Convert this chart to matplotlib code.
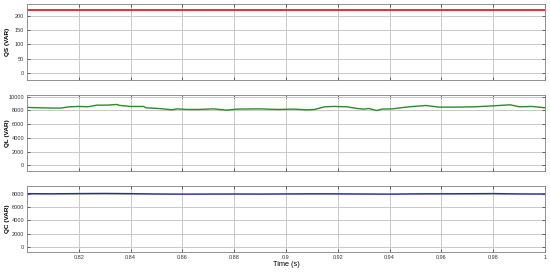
import numpy as np
import matplotlib.pyplot as plt

plt.rcParams['font.family'] = ['Liberation Sans', 'DejaVu Sans']

# data
qs_t = [0.8, 1.0]
qs = [220, 220]

ql_t = [0.8, 0.805, 0.8127, 0.8165, 0.82, 0.8235, 0.827, 0.831, 0.8346, 0.8358,
        0.84, 0.845, 0.846, 0.851, 0.856, 0.858, 0.8615, 0.8665, 0.872, 0.877,
        0.881, 0.89, 0.8965, 0.903, 0.908, 0.911, 0.915, 0.9185, 0.9235, 0.9275,
        0.93, 0.932, 0.935, 0.937, 0.941, 0.9475, 0.954, 0.959, 0.966, 0.973,
        0.98, 0.9865, 0.99, 0.995, 1.0]
ql = [8450, 8390, 8340, 8540, 8590, 8540, 8780, 8780, 8880, 8740,
      8590, 8590, 8390, 8290, 8100, 8240, 8150, 8150, 8240, 8050,
      8200, 8240, 8150, 8200, 8100, 8150, 8540, 8590, 8540, 8290,
      8200, 8290, 8000, 8200, 8240, 8540, 8730, 8490, 8490, 8540,
      8680, 8830, 8540, 8590, 8390]

qc_t = [0.8, 0.81, 0.82, 0.83, 0.84, 0.85, 0.86, 0.87, 0.88, 0.89, 0.9,
        0.91, 0.92, 0.93, 0.94, 0.95, 0.96, 0.97, 0.98, 0.99, 1.0]
qc = [8050, 8030, 8060, 8080, 8050, 8000, 7980, 7990, 8000, 7990, 8010,
      8030, 8020, 8000, 7980, 8020, 8030, 8040, 8060, 8010, 8000]

xticks = [0.82, 0.84, 0.86, 0.88, 0.9, 0.92, 0.94, 0.96, 0.98, 1.0]
xticklabels = ['0.82', '0.84', '0.86', '0.88', '0.9', '0.92', '0.94', '0.96', '0.98', '1']

fig = plt.figure(figsize=(5.5, 2.74), dpi=100)
left, width = 0.049, 0.942
ax1 = fig.add_axes([left, 0.708, width, 0.277])
ax2 = fig.add_axes([left, 0.376, width, 0.277])
ax3 = fig.add_axes([left, 0.080, width, 0.241])

panels = [
    (ax1, qs_t, qs, '#e8302c', 'QS (VAR)', (-25, 240), [0, 50, 100, 150, 200]),
    (ax2, ql_t, ql, '#2b8c2b', 'QL (VAR)', (-830, 10250), [0, 2000, 4000, 6000, 8000, 10000]),
    (ax3, qc_t, qc, '#2a2aa8', 'QC (VAR)', (-800, 9200), [0, 2000, 4000, 6000, 8000]),
]

for ax, t, y, c, lab, lim, yt in panels:
    ax.plot(t, y, color=c, lw=1.4 if ax is ax1 else 1.0)
    ax.set_xlim(0.8, 1.0)
    ax.set_ylim(*lim)
    ax.set_yticks(yt)
    ax.set_xticks(xticks)
    ax.grid(True, color='#c8c8c8', lw=0.7)
    ax.set_axisbelow(True)
    ax.tick_params(direction='in', length=2, width=0.5, labelsize=4,
                   colors='#333333', right=True, top=True, pad=2)
    for s in ax.spines.values():
        s.set_color('#808080')
        s.set_linewidth(0.6)
    ax.set_ylabel(lab, fontsize=4.6, fontweight='bold')
    ax.yaxis.set_label_coords(-0.032, 0.5)
    if ax is not ax3:
        ax.set_xticklabels([])

ax3.set_xticklabels(xticklabels)
ax3.set_xlabel('Time (s)', fontsize=5.3, labelpad=1)

fig.savefig('out.png', dpi=100)
